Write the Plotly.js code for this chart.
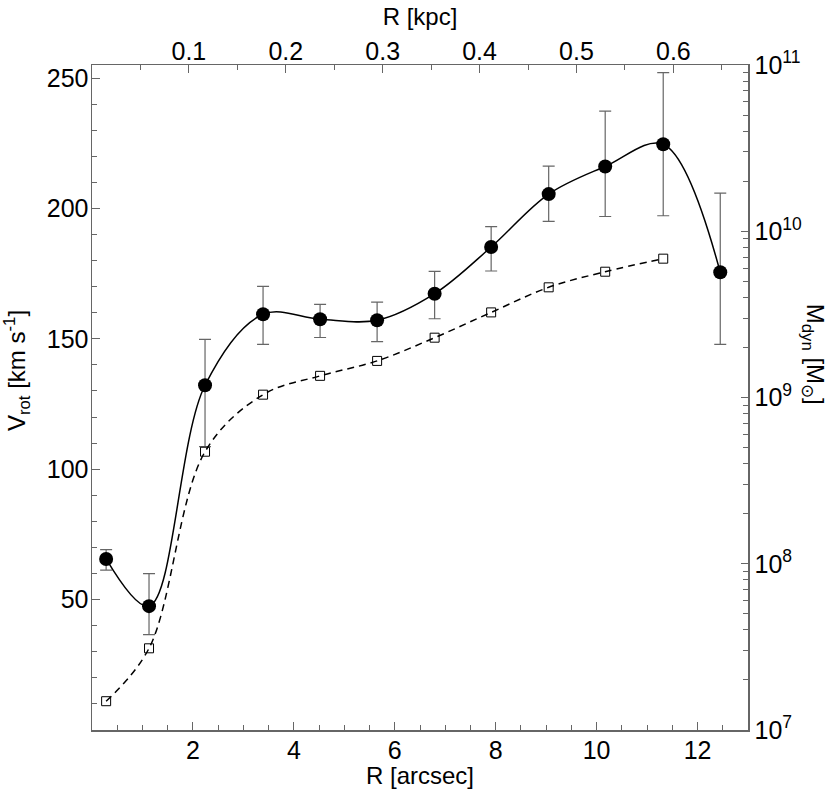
<!DOCTYPE html>
<html>
<head>
<meta charset="utf-8">
<script src="https://cdn.plot.ly/plotly-3.0.1.min.js"></script>
<style>body{margin:0;background:#fff} #plot{width:830px;height:789px}</style>
</head>
<body>
<div id="plot"></div>
<script>
// radius of each ring, arcsec
var radius = [0.28, 1.13, 2.24, 3.39, 4.52, 5.65, 6.79, 7.91, 9.05, 10.17, 11.32, 12.45];
// rotation velocity, km/s, with upper / lower errors
var vrot = [65.6, 47.5, 132.2, 159.4, 157.5, 157.1, 167.3, 185.2, 205.5, 216.1, 224.6, 175.5];
var vErrUp = [3.6, 12.5, 17.6, 10.7, 5.7, 7.0, 8.6, 7.8, 10.7, 21.2, 27.5, 30.4];
var vErrDown = [4.3, 10.9, 23.5, 11.5, 7.0, 8.2, 9.6, 9.2, 10.5, 19.2, 27.4, 27.6];
// dynamical mass, solar masses (none for the last ring)
var mdynR = [0.28, 1.13, 2.24, 3.39, 4.52, 5.65, 6.79, 7.91, 9.05, 10.17, 11.32];
var mdyn = [1.49e7, 3.10e7, 4.72e8, 1.04e9, 1.35e9, 1.66e9, 2.29e9, 3.25e9, 4.60e9, 5.71e9, 6.84e9];

// tick labels
var arcsecTicks = [2, 4, 6, 8, 10, 12];
var kpcTicks = [0.1, 0.2, 0.3, 0.4, 0.5, 0.6];
var vTicks = [50, 100, 150, 200, 250];
var massTicks = [1e7, 1e8, 1e9, 1e10, 1e11];
var massLabels = ["10<sup>7</sup>", "10<sup>8</sup>", "10<sup>9</sup>", "10<sup>10</sup>", "10<sup>11</sup>"];

var font = "Liberation Sans, Arial, Helvetica, sans-serif";
var axisCol = "#666";

var massTrace = {
    x: mdynR,
    y: mdyn,
    xaxis: "x",
    yaxis: "y2",
    mode: "lines+markers",
    line: {color: "black", width: 1.5, dash: "7px,5px", shape: "spline"},
    marker: {symbol: "square-open", size: 9, color: "black", line: {width: 1}},
    hoverinfo: "skip"
};

var vTrace = {
    x: radius,
    y: vrot,
    xaxis: "x",
    yaxis: "y",
    mode: "lines+markers",
    line: {color: "black", width: 1.5, shape: "spline"},
    marker: {symbol: "circle", size: 14, color: "black"},
    error_y: {type: "data", symmetric: false, array: vErrUp, arrayminus: vErrDown,
              color: "#666", thickness: 1.2, width: 6}
};

// empty trace so the kpc axis gets drawn
var kpcTrace = {x: [], y: [], xaxis: "x2", yaxis: "y", hoverinfo: "skip"};

var data = [vTrace, massTrace, kpcTrace];

var layout = {
    width: 830,
    height: 789,
    showlegend: false,
    paper_bgcolor: "white",
    plot_bgcolor: "white",
    font: {family: font, size: 25, color: "black"},
    margin: {l: 92, r: 82, t: 65, b: 59},
    xaxis: {
        range: [0, 13],
        tickmode: "array", tickvals: arcsecTicks,
        ticks: "inside", ticklen: 8, tickcolor: axisCol, tickwidth: 1,
        minor: {dtick: 0.5, tick0: 0, ticks: "inside", ticklen: 5, tickcolor: axisCol},
        showline: true, linecolor: axisCol, linewidth: 1.5,
        showgrid: false, zeroline: false,
        tickfont: {size: 25},
        ticklabelstandoff: -3,
        title: {text: "R [arcsec]", font: {size: 24}, standoff: 4}
    },
    xaxis2: {
        overlaying: "x", side: "top", anchor: "y",
        range: [0, 0.677],
        tickmode: "array", tickvals: kpcTicks,
        ticks: "inside", ticklen: 8, tickcolor: axisCol, tickwidth: 1,
        minor: {dtick: 0.05, tick0: 0, ticks: "inside", ticklen: 5, tickcolor: axisCol},
        showline: true, linecolor: axisCol, linewidth: 1.5,
        showgrid: false, zeroline: false,
        tickfont: {size: 25},
        ticklabelstandoff: -6,
        title: {text: "R [kpc]", font: {size: 24}, standoff: 4}
    },
    yaxis: {
        range: [0, 255],
        tickmode: "array", tickvals: vTicks,
        ticks: "inside", ticklen: 8, tickcolor: axisCol, tickwidth: 1,
        minor: {dtick: 10, tick0: 0, ticks: "inside", ticklen: 5, tickcolor: axisCol},
        showline: true, linecolor: axisCol, linewidth: 1.5,
        showgrid: false, zeroline: false,
        ticklabelstandoff: -3,
        tickfont: {size: 25}
    },
    yaxis2: {
        overlaying: "y", side: "right", anchor: "x",
        type: "log", range: [7, 11],
        tickmode: "array", tickvals: massTicks, ticktext: massLabels,
        ticks: "inside", ticklen: 7, tickcolor: axisCol, tickwidth: 1,
        minor: {dtick: "D1", ticks: "inside", ticklen: 5, tickcolor: axisCol},
        showline: true, linecolor: axisCol, linewidth: 1.5,
        showgrid: false, zeroline: false,
        tickfont: {size: 25}
    },
    annotations: [
        {text: "V<sub>rot</sub> [km s<sup>-1</sup>]", xref: "paper", yref: "paper",
         x: -0.114, y: 0.54, xanchor: "center", yanchor: "middle",
         textangle: -90, showarrow: false, font: {size: 24}},
        {text: "M<sub>dyn</sub> [M<sub>\u2299</sub>]", xref: "paper", yref: "paper",
         x: 1.1, y: 0.565, xanchor: "center", yanchor: "middle",
         textangle: 90, showarrow: false, font: {size: 24}}
    ]
};

Plotly.newPlot("plot", data, layout, {staticPlot: true});
</script>
</body>
</html>
